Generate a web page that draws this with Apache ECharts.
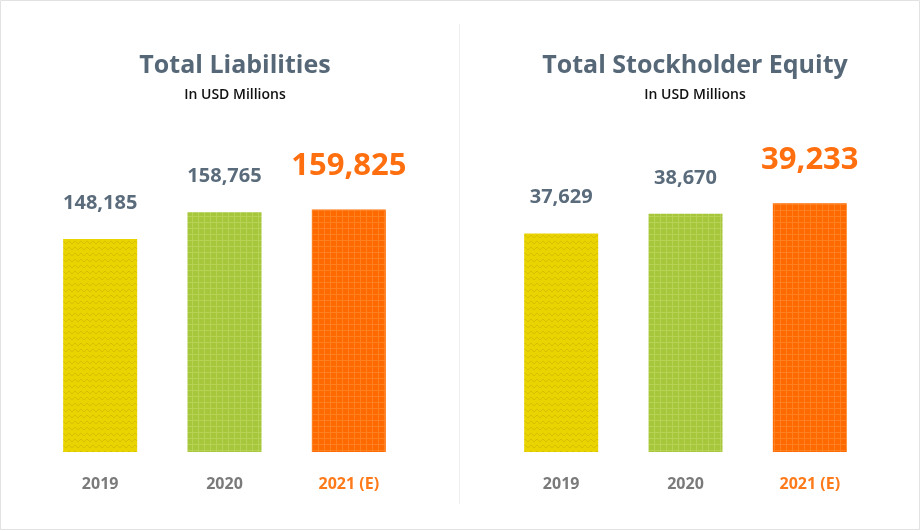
<!DOCTYPE html>
<html>
<head>
<meta charset="utf-8">
<script src="https://cdn.jsdelivr.net/npm/echarts@6/dist/echarts.min.js"></script>
<style>
html,body{margin:0;padding:0;background:#fff;}
#chart{width:920px;height:531px;}
</style>
</head>
<body>
<div id="chart"></div>
<script>
// ---- data ----
var categories = ['2019', '2020', '2021 (E)'];
var liabilities = [148185, 158765, 159825];
var equity = [37629, 38670, 39233];
var titles = ['Total Liabilities', 'Total Stockholder Equity'];
var subtitle = 'In USD Millions';

function makePattern(kind) {
  var c = document.createElement('canvas');
  var ctx = c.getContext('2d');
  c.width = 6; c.height = 6;
  if (kind === 'zigzag') {
    ctx.fillStyle = '#e9d400'; ctx.fillRect(0, 0, 6, 6);
    ctx.strokeStyle = '#d8c000'; ctx.lineWidth = 1;
    ctx.beginPath(); ctx.moveTo(0, 4); ctx.lineTo(3, 1); ctx.lineTo(6, 4); ctx.stroke();
  } else if (kind === 'green') {
    ctx.fillStyle = '#a6c63b'; ctx.fillRect(0, 0, 6, 6);
    ctx.fillStyle = '#b7d255'; ctx.fillRect(0, 0, 6, 1); ctx.fillRect(0, 0, 1, 6);
  } else {
    ctx.fillStyle = '#ff6a00'; ctx.fillRect(0, 0, 6, 6);
    ctx.fillStyle = '#ff8020'; ctx.fillRect(0, 0, 6, 1); ctx.fillRect(0, 0, 1, 6);
  }
  return c;
}
var patterns = [makePattern('zigzag'), makePattern('green'), makePattern('orange')];

var fontFam = '"Open Sans", "Noto Sans", sans-serif';
function fmt(v) { return v.toLocaleString('en-US'); }

function barData(vals) {
  return vals.map(function (v, i) {
    var last = i === vals.length - 1;
    return {
      value: v,
      itemStyle: { color: { image: patterns[i], repeat: 'repeat' } },
      label: last ? { fontSize: 31, fontWeight: 'bold', color: '#ff6f0f', distance: 28 } : {}
    };
  });
}

function catData() {
  return categories.map(function (c, i) {
    return i === categories.length - 1 ? { value: c, textStyle: { color: '#ff7a1a' } } : c;
  });
}

var chart = echarts.init(document.getElementById('chart'));
var titleStyle = { fontFamily: fontFam, fontSize: 25, fontWeight: 'bold', color: '#566878' };
var subStyle = { fontFamily: fontFam, fontSize: 14, fontWeight: 600, color: '#111' };
var option = {
  backgroundColor: '#fff',
  animation: false,
  title: [
    { text: titles[0], left: 230, top: 48, textAlign: 'center', textStyle: titleStyle },
    { text: subtitle, left: 230, top: 83, textAlign: 'center', textStyle: subStyle },
    { text: titles[1], left: 690, top: 48, textAlign: 'center', textStyle: titleStyle },
    { text: subtitle, left: 690, top: 83, textAlign: 'center', textStyle: subStyle }
  ],
  graphic: [
    { type: 'rect', shape: { x: 0.5, y: 0.5, width: 919, height: 529 },
      style: { fill: 'none', stroke: '#e2e2e2', lineWidth: 1 }, silent: true },
    { type: 'line', shape: { x1: 459.5, y1: 24, x2: 459.5, y2: 504 },
      style: { stroke: '#eeeeee', lineWidth: 1 }, silent: true }
  ],
  grid: [
    { left: 38, width: 373, top: 108, bottom: 79 },
    { left: 499, width: 373, top: 108, bottom: 79 }
  ],
  xAxis: [0, 1].map(function (g) {
    return {
      type: 'category', gridIndex: g, data: catData(),
      axisLine: { show: false }, axisTick: { show: false },
      axisLabel: { margin: 24, fontFamily: fontFam, fontSize: 16, fontWeight: 'bold', color: '#7a7a7a' }
    };
  }),
  yAxis: [
    { type: 'value', gridIndex: 0, min: 64000, max: 200000, show: false, splitLine: { show: false } },
    { type: 'value', gridIndex: 1, min: 26000, max: 44300, show: false, splitLine: { show: false } }
  ],
  series: [
    { type: 'bar', xAxisIndex: 0, yAxisIndex: 0, barWidth: 74, data: barData(liabilities),
      label: { show: true, position: 'top', distance: 26, formatter: function (p) { return fmt(p.value); },
        fontFamily: fontFam, fontSize: 20, fontWeight: 'bold', color: '#5a6b7b' } },
    { type: 'bar', xAxisIndex: 1, yAxisIndex: 1, barWidth: 74, data: barData(equity),
      label: { show: true, position: 'top', distance: 26, formatter: function (p) { return fmt(p.value); },
        fontFamily: fontFam, fontSize: 20, fontWeight: 'bold', color: '#5a6b7b' } }
  ]
};
chart.setOption(option);
</script>
</body>
</html>
